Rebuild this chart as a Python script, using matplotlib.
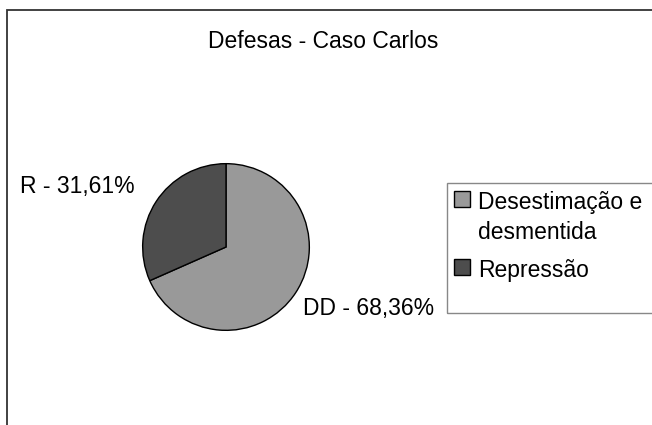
import matplotlib
matplotlib.use("Agg")
import matplotlib.pyplot as plt
from matplotlib.patches import Rectangle

# data
names = ["Desestimação e\ndesmentida", "Repressão"]
short = ["DD", "R"]
values = [68.36, 31.61]
colors = ["#999999", "#4d4d4d"]

plt.rcParams['font.family'] = ['Liberation Sans', 'DejaVu Sans']

W, H = 652, 425
fig = plt.figure(figsize=(W / 100, H / 100), dpi=100)

# outer frame (only left and top visible in the picture)
fig.patches.append(Rectangle((7 / W, -0.1), 1.2, 1 - 10 / H + 0.1,
                             transform=fig.transFigure, fill=False,
                             edgecolor="#333333", linewidth=1.3))

# pie axes, square in pixels
cx, cy, r = 226, 247, 85
ax = fig.add_axes([(cx - r) / W, (H - cy - r) / H, 2 * r / W, 2 * r / H])
wedges, _ = ax.pie(values, colors=colors, startangle=90, counterclock=False,
                   wedgeprops=dict(edgecolor="black", linewidth=1.0))
ax.set_xlim(-1.02, 1.02)
ax.set_ylim(-1.02, 1.02)
ax.set_aspect("auto")
ax.axis("off")

# slice labels
fig.text(20 / W, 1 - 187 / H, "%s - %s%%" % (short[1], ("%.2f" % values[1]).replace(".", ",")),
         fontsize=16.5, ha="left", va="center")
fig.text(303 / W, 1 - 308 / H, "%s - %s%%" % (short[0], ("%.2f" % values[0]).replace(".", ",")),
         fontsize=16.5, ha="left", va="center")

fig.text(323 / W, 1 - 42 / H, "Defesas - Caso Carlos", fontsize=16.5,
         ha="center", va="center")

# legend box, runs off the right edge
fig.patches.append(Rectangle((447 / W, 1 - 313 / H), 1.0, 130 / H,
                             transform=fig.transFigure, fill=False,
                             edgecolor="#888888", linewidth=1.0))

leg = fig.legend(wedges, names, loc="upper left",
                 bbox_to_anchor=(454 / W, 1 - 191 / H), fontsize=16.5,
                 frameon=False, handlelength=0.7,
                 handleheight=0.7, handletextpad=0.35, borderpad=0,
                 labelspacing=0.65, borderaxespad=0)
for t in leg.get_texts():
    t.set_linespacing(1.4)
# handle next to the first line of text, like the original
for col in leg._legend_handle_box.get_children():
    for row in col.get_children():
        row.align = "top"

fig.savefig("out.png", dpi=100)
